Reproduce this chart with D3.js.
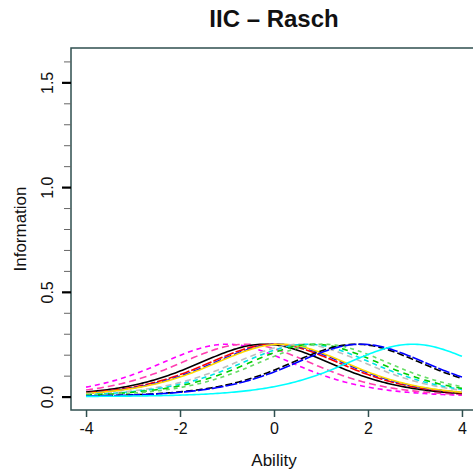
<!DOCTYPE html>
<html lang="en">
    <head>
        <meta charset="utf-8">
        <title>IIC - Rasch</title>
        <script type="text/javascript" src="https://cdn.jsdelivr.net/npm/d3@7"></script>
        <style>
            body { margin: 0; background: #fff; }
            text { font-family: "Liberation Sans", Arial, sans-serif; fill: #111; }
        </style>
    </head>

    <body>
        <script type="text/javascript">
        var w = 473;
        var h = 476;

        // item difficulties (Rasch, discrimination fixed at 1)
        var itemDifficulty = [-1.0, -0.6, -0.2, 0.0, 0.1, 0.15, 0.55, 0.7, 0.85, 1.05, 1.75, 1.85, 2.95];

        // line style per item
        var itemColor = ["#ff00ff", "#ff3fb0", "#000000", "#ff0000", "#0000ff", "#ffd700",
                         "#bebebe", "#00e5e5", "#00cd00", "#66dd66", "#000000", "#0000ff", "#00ffff"];
        var itemDash  = ["5,4", "7,4", null, "10,2", "8,3", null,
                         "6,4", "5,4", "6,5", "4,4", "7,3", "12,2", null];

        var xTicks = [-4, -2, 0, 2, 4];
        var yTicks = [0, 0.5, 1.0, 1.5];
        var yMinorTicks = d3.range(0, 1.61, 0.1);

        // grid of ability values the curves are evaluated on
        var ability = d3.range(-4, 4.0001, 0.05);

        // item information for a Rasch item: P(1 - P)
        var info = function(theta, b){
            var p = 1 / (1 + Math.exp(-(theta - b)));
            return p * (1 - p);
        };

        var xScale = d3.scaleLinear()
                    .domain([-4.32, 4.32])
                    .range([71, 477]);

        var yScale = d3.scaleLinear()
                    .domain([-0.064, 1.664])
                    .range([410, 48]);

        var svg = d3.select("body")
                    .append("svg")
                    .attr("width", w)
                    .attr("height", h);

        // curves
        var line = d3.line()
                    .x(function(d){ return xScale(d[0]); })
                    .y(function(d){ return yScale(d[1]); });

        svg.selectAll("path.iic")
            .data(itemDifficulty)
            .enter()
            .append("path")
            .attr("class", "iic")
            .attr("d", function(b){
                return line(ability.map(function(t){ return [t, info(t, b)]; }));
            })
            .attr("fill", "none")
            .attr("stroke", function(d, i){ return itemColor[i]; })
            .attr("stroke-dasharray", function(d, i){ return itemDash[i]; })
            .attr("stroke-width", 1.6);

        // frame (right edge falls outside the window)
        var frame = "#2f4f4f";
        svg.append("rect")
            .attr("x", 71)
            .attr("y", 48)
            .attr("width", 406)
            .attr("height", 362)
            .attr("fill", "none")
            .attr("stroke", frame)
            .attr("stroke-width", 1.5);

        // x axis
        var xAxis = d3.axisBottom(xScale).tickValues(xTicks).tickSize(7).tickPadding(6)
                    .tickFormat(function(d){ return d < 0 ? "-" + Math.abs(d) : d; });
        var gx = svg.append("g")
            .attr("transform", "translate(0,410)")
            .call(xAxis);
        gx.select(".domain").remove();
        gx.selectAll("line").attr("stroke", frame).attr("stroke-width", 1.5);
        gx.selectAll("text").attr("font-size", 16).attr("fill", "#111");

        // y axis: minor ticks first, then labelled ticks
        var gyMinor = svg.append("g")
            .attr("transform", "translate(71,0)")
            .call(d3.axisLeft(yScale).tickValues(yMinorTicks).tickSize(7).tickFormat(""));
        gyMinor.select(".domain").remove();
        gyMinor.selectAll("line").attr("stroke", "#666").attr("stroke-width", 1);

        var gy = svg.append("g")
            .attr("transform", "translate(71,0)")
            .call(d3.axisLeft(yScale).tickValues(yTicks).tickSize(9).tickFormat(d3.format(".1f")));
        gy.select(".domain").remove();
        gy.selectAll("line").attr("stroke", "#000").attr("stroke-width", 2.2);
        gy.selectAll("text")
            .attr("font-size", 16)
            .attr("fill", "#111")
            .attr("text-anchor", "middle")
            .attr("dy", null)
            .attr("x", 0)
            .attr("transform", function(d){ return "translate(-18," + 0 + ") rotate(-90)"; })
            .attr("y", 0)
            .attr("dominant-baseline", "auto");

        // titles
        svg.append("text")
            .attr("x", 274)
            .attr("y", 27)
            .attr("text-anchor", "middle")
            .attr("font-size", 24)
            .attr("font-weight", "bold")
            .text("IIC \u2013 Rasch");

        svg.append("text")
            .attr("x", 274)
            .attr("y", 466)
            .attr("text-anchor", "middle")
            .attr("font-size", 17)
            .text("Ability");

        svg.append("text")
            .attr("transform", "translate(26,229) rotate(-90)")
            .attr("text-anchor", "middle")
            .attr("font-size", 17)
            .text("Information");
        </script>
    </body>
</html>
